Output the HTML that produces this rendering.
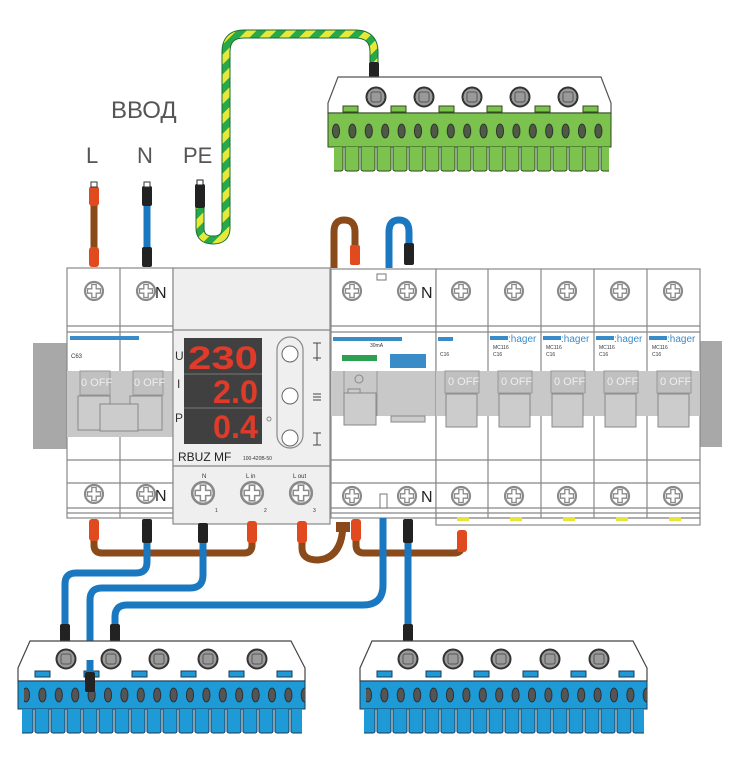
<!DOCTYPE html>
<html><head><meta charset="utf-8"><style>
html,body{margin:0;padding:0;background:#fff}
svg{display:block}
text{font-family:"Liberation Sans",sans-serif}
</style></head><body>
<svg width="740" height="758" viewBox="0 0 740 758" xmlns="http://www.w3.org/2000/svg">
<defs>
<pattern id="pgy" width="14" height="14" patternUnits="userSpaceOnUse" patternTransform="rotate(45)">
<rect width="14" height="14" fill="#27a84a"/><rect width="7" height="14" fill="#e8e83a"/></pattern>
<pattern id="holesG" x="0" y="0" width="16.4" height="40" patternUnits="userSpaceOnUse"><ellipse cx="8" cy="14" rx="3.6" ry="7" fill="#4e5a46" stroke="#222" stroke-width=".8"/></pattern>
<pattern id="holesB" x="0" y="0" width="16.4" height="40" patternUnits="userSpaceOnUse"><ellipse cx="8" cy="14" rx="3.6" ry="7" fill="#555" stroke="#222" stroke-width=".8"/></pattern>
<pattern id="finsG" x="0" y="70" width="16" height="60" patternUnits="userSpaceOnUse"><rect x="1" y="-3" width="14" height="27" rx="2" fill="#7cc24f" stroke="#2e4a1e" stroke-width="1"/></pattern>
<pattern id="finsB" x="0" y="68" width="16" height="60" patternUnits="userSpaceOnUse"><rect x="1" y="-3" width="14" height="27" rx="2" fill="#1e9ad6" stroke="#1a3a55" stroke-width="1"/></pattern>
<g id="scr"><circle r="9" fill="#fff" stroke="#8a8a8a" stroke-width="2.2"/><path d="M-2.2,-6.5h4.4v4.3h4.3v4.4h-4.3v4.3h-4.4v-4.3h-4.3v-4.4h4.3z" fill="#fff" stroke="#8a8a8a" stroke-width="1.3"/></g>
<g id="bscr"><circle r="9.5" fill="#9a9a9a" stroke="#333" stroke-width="2"/><rect x="-5" y="-5" width="10" height="10" rx="2" fill="none" stroke="#555" stroke-width="1"/></g>
</defs>

<!-- texts -->
<text x="111" y="118" font-size="24" fill="#555">ВВОД</text>
<text x="86" y="163" font-size="22" fill="#555">L</text>
<text x="137" y="163" font-size="22" fill="#555">N</text>
<text x="183" y="163" font-size="22" fill="#555">PE</text>

<!-- rails -->
<rect x="33" y="343" width="36" height="106" fill="#a8a8a8"/>
<rect x="698" y="341" width="24" height="106" fill="#a8a8a8"/>

<!-- PE wire -->
<path d="M200,205 V228 Q200,240 213,240 Q226,240 226,228 V52 Q226,34 244,34 H355 Q374,34 374,52 V66" fill="none" stroke="#1b6e30" stroke-width="9" stroke-linecap="round"/>
<path d="M200,205 V228 Q200,240 213,240 Q226,240 226,228 V52 Q226,34 244,34 H355 Q374,34 374,52 V66" fill="none" stroke="url(#pgy)" stroke-width="7" stroke-linecap="round"/>
<rect x="195" y="184" width="10" height="24" rx="2" fill="#222"/>
<rect x="197" y="180" width="6" height="5" fill="#fff" stroke="#222"/>
<rect x="369" y="62" width="10" height="22" rx="2" fill="#222"/>

<!-- green bus -->
<g transform="translate(328,77)">
<path d="M10,0 H273 L283,26 V36 H0 V26 Z" fill="#fff" stroke="#555" stroke-width="1.2"/>
<rect x="0" y="36" width="283" height="34" fill="#7cc24f" stroke="#2e4a1e" stroke-width="1"/>
<rect x="2" y="36" width="281" height="34" fill="url(#holesG)"/>
<rect x="6" y="70" width="275" height="25" fill="url(#finsG)"/>
<g fill="#7cc24f" stroke="#2e4a1e" stroke-width="1"><rect x="15" y="29" width="15" height="6"/><rect x="63" y="29" width="15" height="6"/><rect x="111" y="29" width="15" height="6"/><rect x="159" y="29" width="15" height="6"/><rect x="207" y="29" width="15" height="6"/><rect x="255" y="29" width="15" height="6"/></g>
<use href="#bscr" x="48" y="20"/><use href="#bscr" x="96" y="20"/><use href="#bscr" x="144" y="20"/><use href="#bscr" x="192" y="20"/><use href="#bscr" x="240" y="20"/>
</g>

<!-- top input wires -->
<path d="M94,190 V262" stroke="#8a4a1a" stroke-width="7" fill="none"/>
<rect x="89" y="186" width="10" height="20" rx="3" fill="#e04a1e"/><rect x="89" y="247" width="10" height="20" rx="3" fill="#e04a1e"/>
<rect x="91" y="182" width="6" height="5" fill="#fff" stroke="#333"/>
<path d="M147,190 V262" stroke="#1a78c0" stroke-width="7" fill="none"/>
<rect x="142" y="186" width="10" height="20" rx="2" fill="#222"/><rect x="142" y="247" width="10" height="20" rx="2" fill="#222"/>
<rect x="144" y="182" width="6" height="5" fill="#fff" stroke="#333"/>

<!-- top jumpers -->
<path d="M334,268 V232 Q334,220 344,220 Q355,220 355,232 V250" fill="none" stroke="#8a4a1a" stroke-width="7"/>
<rect x="350" y="245" width="10" height="20" rx="2" fill="#e04a1e"/>
<path d="M389,268 V232 Q389,220 399,220 Q409,220 409,232 V250" fill="none" stroke="#1a78c0" stroke-width="7"/>
<rect x="404" y="243" width="10" height="22" rx="2" fill="#222"/>

<!-- left breaker -->
<g stroke="#888" stroke-width="1.2" fill="none">
<rect x="67" y="268" width="106" height="250" fill="#fff"/>
<line x1="120" y1="268" x2="120" y2="518"/>
<line x1="67" y1="326" x2="173" y2="326"/><line x1="67" y1="332" x2="173" y2="332"/>
<line x1="67" y1="460" x2="173" y2="460"/><line x1="67" y1="483" x2="173" y2="483"/>
<line x1="67" y1="508" x2="173" y2="508"/><line x1="67" y1="513" x2="173" y2="513"/>
</g>
<rect x="67" y="371" width="106" height="66" fill="#c8c8c8"/>
<rect x="80" y="371" width="30" height="24" fill="#c0c0c0" stroke="#999"/>
<rect x="133" y="371" width="30" height="24" fill="#c0c0c0" stroke="#999"/>
<text x="81" y="386" font-size="11" fill="#eee">0 OFF</text>
<text x="134" y="386" font-size="11" fill="#eee">0 OFF</text>
<rect x="78" y="396" width="32" height="34" fill="#ccc" stroke="#888"/>
<rect x="130" y="396" width="32" height="34" fill="#ccc" stroke="#888"/>
<rect x="100" y="404" width="38" height="27" fill="#ccc" stroke="#888"/>
<rect x="70" y="336" width="69" height="4" fill="#3a8cc8"/>
<text x="71" y="358" font-size="6" fill="#333">C63</text>
<use href="#scr" x="94" y="291"/><use href="#scr" x="146" y="291"/>
<use href="#scr" x="94" y="494"/><use href="#scr" x="146" y="494"/>
<text x="155" y="298" font-size="16" fill="#222">N</text>
<text x="155" y="501" font-size="16" fill="#222">N</text>

<!-- RBUZ -->
<rect x="173" y="268" width="157" height="256" fill="#efefef" stroke="#888" stroke-width="1.2"/>
<line x1="173" y1="330" x2="330" y2="330" stroke="#888" stroke-width="1.2"/>
<line x1="173" y1="466" x2="330" y2="466" stroke="#888" stroke-width="1.2"/>
<rect x="184" y="338" width="78" height="106" fill="#404040"/>
<line x1="184" y1="374" x2="262" y2="374" stroke="#777"/><line x1="184" y1="408" x2="262" y2="408" stroke="#777"/>
<g font-family="DejaVu Sans Mono,monospace" font-size="32" fill="#e03a2a" font-weight="bold">
<text x="188" y="369" textLength="70" lengthAdjust="spacingAndGlyphs">230</text>
<text x="213" y="403" textLength="45" lengthAdjust="spacingAndGlyphs">2.0</text>
<text x="213" y="438" textLength="45" lengthAdjust="spacingAndGlyphs">0.4</text>
</g>
<text x="175" y="360" font-size="12" fill="#333">U</text>
<text x="177" y="388" font-size="12" fill="#333">I</text>
<text x="175" y="422" font-size="12" fill="#333">P</text>
<circle cx="269" cy="419" r="2" fill="none" stroke="#888"/>
<rect x="277" y="337" width="26" height="111" rx="13" fill="#efefef" stroke="#888" stroke-width="1.2"/>
<circle cx="290" cy="354" r="8" fill="#fff" stroke="#666"/><circle cx="290" cy="396" r="8" fill="#fff" stroke="#666"/><circle cx="290" cy="438" r="8" fill="#fff" stroke="#666"/>
<g stroke="#444" stroke-width="1"><path d="M313,343h8M317,343v18M313,358h8"/><path d="M313,394h8M313,397h8M313,400h8"/><path d="M317,433v12M313,433h8M313,445h8"/></g>
<text x="178" y="461" font-size="12" fill="#222">RBUZ MF</text>
<text x="243" y="460" font-size="5" fill="#333">100-420В-50</text>
<text x="202" y="478" font-size="6" fill="#333">N</text>
<text x="246" y="478" font-size="6" fill="#333">L in</text>
<text x="293" y="478" font-size="6" fill="#333">L out</text>
<g transform="translate(203,493) scale(1.2)"><use href="#scr"/></g>
<g transform="translate(252,493) scale(1.2)"><use href="#scr"/></g>
<g transform="translate(301,493) scale(1.2)"><use href="#scr"/></g>
<text x="215" y="512" font-size="5" fill="#333">1</text><text x="264" y="512" font-size="5" fill="#333">2</text><text x="313" y="512" font-size="5" fill="#333">3</text>

<!-- RCD -->
<g stroke="#888" stroke-width="1.2" fill="none">
<rect x="331" y="269" width="105" height="249" fill="#fff"/>
<line x1="331" y1="326" x2="436" y2="326"/><line x1="331" y1="332" x2="436" y2="332"/>
<line x1="331" y1="460" x2="436" y2="460"/><line x1="331" y1="483" x2="436" y2="483"/>
<line x1="331" y1="508" x2="436" y2="508"/><line x1="331" y1="513" x2="436" y2="513"/>
</g>
<rect x="331" y="371" width="105" height="45" fill="#c8c8c8"/>
<line x1="344" y1="371" x2="344" y2="416" stroke="#999"/><line x1="377" y1="371" x2="377" y2="416" stroke="#999"/>
<circle cx="359" cy="379" r="4" fill="none" stroke="#888"/>
<rect x="344" y="393" width="32" height="32" fill="#ccc" stroke="#888"/>
<rect x="348" y="389" width="12" height="4" fill="#ccc" stroke="#888"/>
<rect x="391" y="416" width="34" height="6" fill="#ccc" stroke="#888"/>
<rect x="333" y="337" width="69" height="4" fill="#3a8cc8"/>
<text x="370" y="347" font-size="5" fill="#333">30mA</text>
<rect x="342" y="355" width="35" height="6" fill="#2aa050"/>
<rect x="390" y="354" width="36" height="14" fill="#3a8cc8"/>
<rect x="377" y="274" width="9" height="6" fill="#fff" stroke="#777"/>
<rect x="380" y="494" width="7" height="14" fill="#fff" stroke="#777"/>
<use href="#scr" x="352" y="291"/><use href="#scr" x="407" y="291"/>
<use href="#scr" x="352" y="496"/><use href="#scr" x="407" y="496"/>
<text x="421" y="298" font-size="16" fill="#222">N</text>
<text x="421" y="502" font-size="16" fill="#222">N</text>

<!-- MCBs -->
<g stroke="#888" stroke-width="1.2" fill="none">
<rect x="436" y="269" width="264" height="249" fill="#fff"/>
<line x1="488" y1="269" x2="488" y2="518"/><line x1="541" y1="269" x2="541" y2="518"/><line x1="594" y1="269" x2="594" y2="518"/><line x1="647" y1="269" x2="647" y2="518"/>
<line x1="436" y1="326" x2="700" y2="326"/><line x1="436" y1="332" x2="700" y2="332"/>
<line x1="436" y1="460" x2="700" y2="460"/><line x1="436" y1="483" x2="700" y2="483"/>
<line x1="436" y1="508" x2="700" y2="508"/><line x1="436" y1="513" x2="700" y2="513"/>
<rect x="436" y="518" width="264" height="7"/>
</g>
<rect x="436" y="371" width="264" height="45" fill="#c8c8c8"/>
<g fill="#e6e63a"><rect x="457" y="517" width="12" height="4"/><rect x="510" y="517" width="12" height="4"/><rect x="563" y="517" width="12" height="4"/><rect x="616" y="517" width="12" height="4"/><rect x="669" y="517" width="12" height="4"/></g>
<g id="mcb">
<rect x="445" y="371" width="34" height="22" fill="#c0c0c0" stroke="#999"/>
<text x="448" y="385" font-size="11" fill="#eee">0 OFF</text>
<rect x="446" y="394" width="31" height="33" fill="#ccc" stroke="#888"/>
<use href="#scr" x="461" y="291"/><use href="#scr" x="461" y="496"/>
</g>
<use href="#mcb" x="53"/><use href="#mcb" x="106"/><use href="#mcb" x="159"/><use href="#mcb" x="212"/>
<rect x="438" y="337" width="15" height="4" fill="#3a8cc8"/>
<text x="440" y="356" font-size="5" fill="#333">C16</text>
<g id="hg"><rect x="490" y="336" width="18" height="4" fill="#3a8cc8"/><text x="508" y="342" font-size="10" fill="#3a8cc8">:hager</text>
<text x="493" y="349" font-size="5" fill="#333">MC116</text><text x="493" y="356" font-size="5" fill="#333">C16</text></g>
<use href="#hg" x="53"/><use href="#hg" x="106"/><use href="#hg" x="159"/>

<!-- bottom wires -->
<path d="M94,530 V545 Q94,553 102,553 H244 Q252,553 252,545 V530" fill="none" stroke="#8a4a1a" stroke-width="7"/>
<path d="M302,530 V548 Q302,560 318,560 Q343,558 343,522" fill="none" stroke="#8a4a1a" stroke-width="7"/>
<path d="M356,530 V545 Q356,553 364,553 H454 Q462,553 462,545 V532" fill="none" stroke="#8a4a1a" stroke-width="7"/>
<path d="M147,535 V562 Q147,573 136,573 H76 Q65,573 65,584 V632" fill="none" stroke="#1a78c0" stroke-width="7"/>
<path d="M203,535 V575 Q203,588 190,588 H102 Q90,588 90,600 V685" fill="none" stroke="#1a78c0" stroke-width="7"/>
<path d="M383,518 V585 Q383,605 363,605 H127 Q115,605 115,617 V632" fill="none" stroke="#1a78c0" stroke-width="7"/>
<path d="M408,535 V632" fill="none" stroke="#1a78c0" stroke-width="7"/>
<g fill="#e04a1e"><rect x="89" y="519" width="10" height="22" rx="3"/><rect x="247" y="521" width="10" height="22" rx="3"/><rect x="297" y="521" width="10" height="22" rx="3"/><rect x="351" y="519" width="10" height="22" rx="3"/><rect x="457" y="530" width="10" height="22" rx="3"/></g>
<g fill="#222"><rect x="142" y="519" width="10" height="24" rx="2"/><rect x="198" y="523" width="10" height="20" rx="2"/><rect x="403" y="519" width="10" height="24" rx="2"/>
<rect x="60" y="624" width="10" height="22" rx="2"/><rect x="110" y="624" width="10" height="22" rx="2"/><rect x="403" y="624" width="10" height="22" rx="2"/></g>
<rect x="336" y="522" width="14" height="10" fill="#8a4a1a"/>

<!-- blue bus left -->
<g id="bb" transform="translate(18,641)">
<path d="M12,0 H273 L287,27 V40 H0 V27 Z" fill="#fff" stroke="#444" stroke-width="1.2"/>
<rect x="0" y="40" width="287" height="28" fill="#1e9ad6" stroke="#1a3a55" stroke-width="1"/>
<rect x="6" y="36" width="281" height="32" fill="url(#holesB)"/>
<rect x="4" y="68" width="280" height="25" fill="url(#finsB)"/>
<g fill="#1e9ad6" stroke="#1a3a55" stroke-width="1"><rect x="17" y="30" width="15" height="6"/><rect x="66" y="30" width="15" height="6"/><rect x="114" y="30" width="15" height="6"/><rect x="163" y="30" width="15" height="6"/><rect x="211" y="30" width="15" height="6"/><rect x="259" y="30" width="15" height="6"/></g>
<use href="#bscr" x="48" y="18"/><use href="#bscr" x="93" y="18"/><use href="#bscr" x="141" y="18"/><use href="#bscr" x="190" y="18"/><use href="#bscr" x="239" y="18"/>
</g>
<use href="#bb" x="342" y="0"/>
<path d="M90,660 V688" stroke="#1a78c0" stroke-width="7"/>
<rect x="85" y="672" width="10" height="20" rx="2" fill="#222"/>
</svg>
</body></html>
